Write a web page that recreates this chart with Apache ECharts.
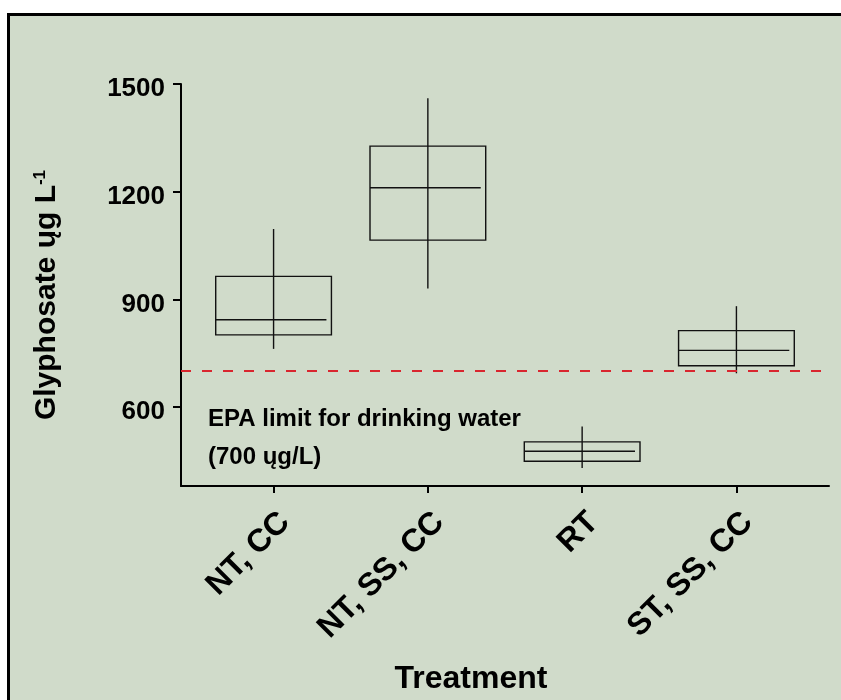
<!DOCTYPE html>
<html>
<head>
<meta charset="utf-8">
<script src="https://cdn.jsdelivr.net/npm/echarts@6/dist/echarts.min.js"></script>
<style>
html,body{margin:0;padding:0;background:#ffffff;}
#chart{width:841px;height:700px;}
</style>
</head>
<body>
<div id="chart"></div>
<script>
// ---- data ----
var categories = ['NT, CC', 'NT, SS, CC', 'RT', 'ST, SS, CC'];
var whiskerLow  = [762, 930, 430, 694];
var q1          = [801, 1065, 449, 715];
var median      = [843, 1211, 477, 758];
var q3          = [964, 1327, 503, 813];
var whiskerHigh = [1096, 1460, 546, 881];
var epaLimit = 700;
var yTicks = [600, 900, 1200, 1500];
var xPositions = [1, 2, 3, 4];

var FONT = "'Liberation Sans', Arial, Helvetica, sans-serif";
var boxData = categories.map(function (c, i) {
  return [xPositions[i], whiskerLow[i], q1[i], median[i], q3[i], whiskerHigh[i]];
});

var chart = echarts.init(document.getElementById('chart'), null, {renderer: 'canvas'});
var lineColor = '#111111';

var option = {
  backgroundColor: '#ffffff',
  animation: false,
  graphic: [
    {
      type: 'rect', z: -10, silent: true,
      shape: {x: 8.5, y: 14.5, width: 900, height: 800},
      style: {fill: '#d0dbca', stroke: '#000000', lineWidth: 3}
    },
    {
      type: 'text', x: 47, y: 295, rotation: Math.PI / 2, z: 10,
      style: {
        text: '{a|Glyphosate ųg L}{b|-1}',
        align: 'center', verticalAlign: 'middle',
        rich: {
          a: {fontFamily: FONT, fontWeight: 'bold', fontSize: 30, fill: '#000'},
          b: {fontFamily: FONT, fontWeight: 'bold', fontSize: 17, fill: '#000', verticalAlign: 'top'}
        }
      }
    },
    {
      type: 'text', x: 471, y: 679, z: 10,
      style: {text: 'Treatment', fontFamily: FONT, fontWeight: 'bold', fontSize: 32, fill: '#000', align: 'center', verticalAlign: 'middle'}
    },
    {
      type: 'text', x: 208, y: 419, z: 10,
      style: {text: 'EPA limit for drinking water', fontFamily: FONT, fontWeight: 'bold', fontSize: 24, fill: '#000', align: 'left', verticalAlign: 'middle'}
    },
    {
      type: 'text', x: 208, y: 457, z: 10,
      style: {text: '(700 ųg/L)', fontFamily: FONT, fontWeight: 'bold', fontSize: 24, fill: '#000', align: 'left', verticalAlign: 'middle'}
    }
  ],
  grid: {left: 181, right: 12, top: 84, bottom: 214, containLabel: false},
  xAxis: {
    type: 'value', min: 0.4, max: 4.6,
    splitLine: {show: false},
    axisLine: {show: true, onZero: false, lineStyle: {color: '#000', width: 2}},
    axisTick: {show: true, length: 7, customValues: xPositions, lineStyle: {color: '#000', width: 2}},
    axisLabel: {
      customValues: xPositions, rotate: 45, margin: 20, verticalAlign: 'top',
      fontFamily: FONT, fontWeight: 'bold', fontSize: 32, color: '#000',
      formatter: function (v) { var i = Math.round(v) - 1; return categories[i] || ''; }
    }
  },
  yAxis: {
    type: 'value', min: 380, max: 1500,
    splitLine: {show: false},
    axisLine: {show: true, lineStyle: {color: '#000', width: 2}},
    axisTick: {show: true, length: 8, customValues: yTicks, lineStyle: {color: '#000', width: 2}},
    axisLabel: {
      customValues: yTicks, margin: 16,
      fontFamily: FONT, fontWeight: 'bold', fontSize: 26, color: '#000',
      formatter: function (v) { return '{v|' + String(v) + '}'; },
      rich: {
        v: {fontFamily: FONT, fontWeight: 'bold', fontSize: 26, color: '#000', padding: [10, 0, 0, 0]}
      }
    }
  },
  series: [{
    type: 'custom',
    data: boxData,
    encode: {x: 0, y: [1, 2, 3, 4, 5]},
    renderItem: function (params, api) {
      var x = api.value(0);
      var pLow = api.coord([x, api.value(1)]);
      var pQ1 = api.coord([x, api.value(2)]);
      var pMed = api.coord([x, api.value(3)]);
      var pQ3 = api.coord([x, api.value(4)]);
      var pHigh = api.coord([x, api.value(5)]);
      var halfW = api.size([0.75, 0])[0] / 2;
      var st = {stroke: lineColor, lineWidth: 1.4, fill: null};
      return {
        type: 'group',
        children: [
          {type: 'rect', shape: {x: pQ1[0] - halfW, y: pQ3[1], width: halfW * 2, height: pQ1[1] - pQ3[1]}, style: {stroke: lineColor, lineWidth: 1.4, fill: 'none'}},
          {type: 'line', shape: {x1: pMed[0] - halfW, y1: pMed[1], x2: pMed[0] + halfW - 5, y2: pMed[1]}, style: st},
          {type: 'line', shape: {x1: pLow[0], y1: pLow[1], x2: pHigh[0], y2: pHigh[1]}, style: st}
        ]
      };
    },
    markLine: {
      silent: true, symbol: 'none',
      label: {show: false},
      lineStyle: {color: '#d9262f', width: 2.2, type: [10, 11]},
      data: [{yAxis: epaLimit}]
    }
  }]
};
chart.setOption(option);
</script>
</body>
</html>
